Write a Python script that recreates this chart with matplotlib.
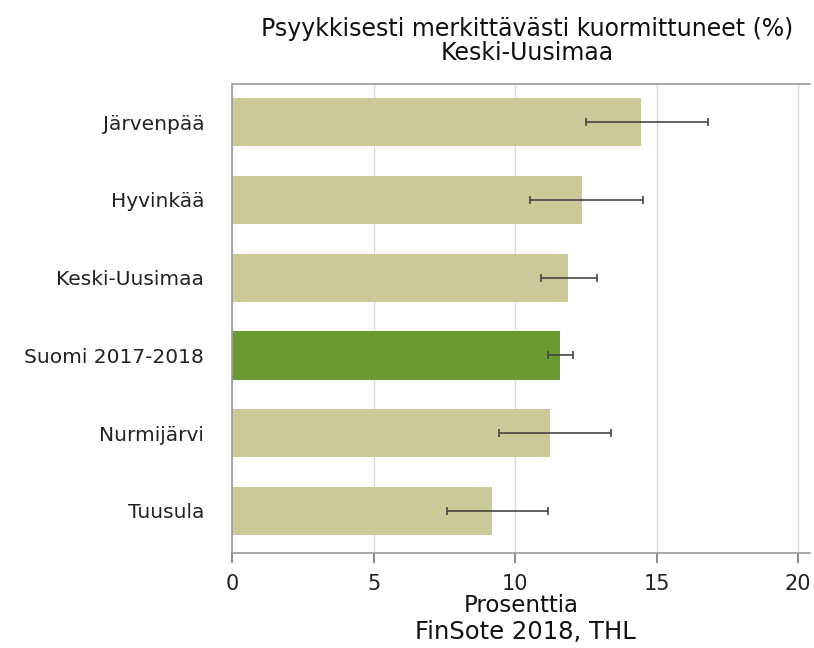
import matplotlib
matplotlib.use("Agg")
import matplotlib.pyplot as plt

plt.rcParams['font.family'] = ['DejaVu Sans']

# Data (top to bottom as shown)
areas = ["Järvenpää", "Hyvinkää", "Keski-Uusimaa", "Suomi 2017-2018", "Nurmijärvi", "Tuusula"]
values = [14.46, 12.35, 11.86, 11.59, 11.24, 9.18]
ci_low = [12.52, 10.54, 10.90, 11.18, 9.43, 7.59]
ci_high = [16.80, 14.51, 12.88, 12.03, 13.39, 11.18]
x_ticks = [0, 5, 10, 15, 20]

fig = plt.figure(figsize=(8.14, 6.48), dpi=100)
ax = fig.add_axes([232 / 814, 1 - 553 / 648, (810 - 232) / 814, (553 - 84) / 648])

n = len(areas)
ypos = list(range(n - 1, -1, -1))
colors = ["#6b9a33" if a.startswith("Suomi") else "#c9ca97" for a in areas]
xerr = [[v - lo for v, lo in zip(values, ci_low)],
        [hi - v for v, hi in zip(values, ci_high)]]

ax.barh(ypos, values, height=0.62, color=colors, zorder=2)
ax.errorbar(values, ypos, xerr=xerr, fmt="none", ecolor="#444444",
            elinewidth=1.2, capsize=3, capthick=1.2, zorder=3)

ax.set_xlim(0, 20.42)
ax.set_ylim(-0.54, n - 1 + 0.49)
ax.set_yticks(ypos)
ax.set_yticklabels(areas, fontsize=14.5, color="#222222")
ax.set_xticks(x_ticks)
ax.set_xticklabels([str(t) for t in x_ticks], fontsize=15, color="#222222")
ax.tick_params(axis="y", length=0, pad=20)
ax.tick_params(axis="x", length=7, width=1.2, color="#777777", pad=8)
ax.grid(axis="x", color="#d9d9d9", linewidth=1, zorder=0)

for side in ["left", "top", "bottom"]:
    ax.spines[side].set_color("#9a9a9a")
    ax.spines[side].set_linewidth(1.2)
ax.spines["right"].set_visible(False)

ax.set_xlabel("Prosenttia", fontsize=16.5, labelpad=0, color="#111111")
fig.text(525 / 814, 1 - 632 / 648, "FinSote 2018, THL",
         ha="center", va="center", fontsize=17.5, color="#111111")
fig.text(527 / 814, 1 - 29 / 648, "Psyykkisesti merkittävästi kuormittuneet (%)",
         ha="center", va="center", fontsize=17, color="#111111")
fig.text(527 / 814, 1 - 53 / 648, "Keski-Uusimaa",
         ha="center", va="center", fontsize=17, color="#111111")

fig.savefig("out.png", dpi=100)
